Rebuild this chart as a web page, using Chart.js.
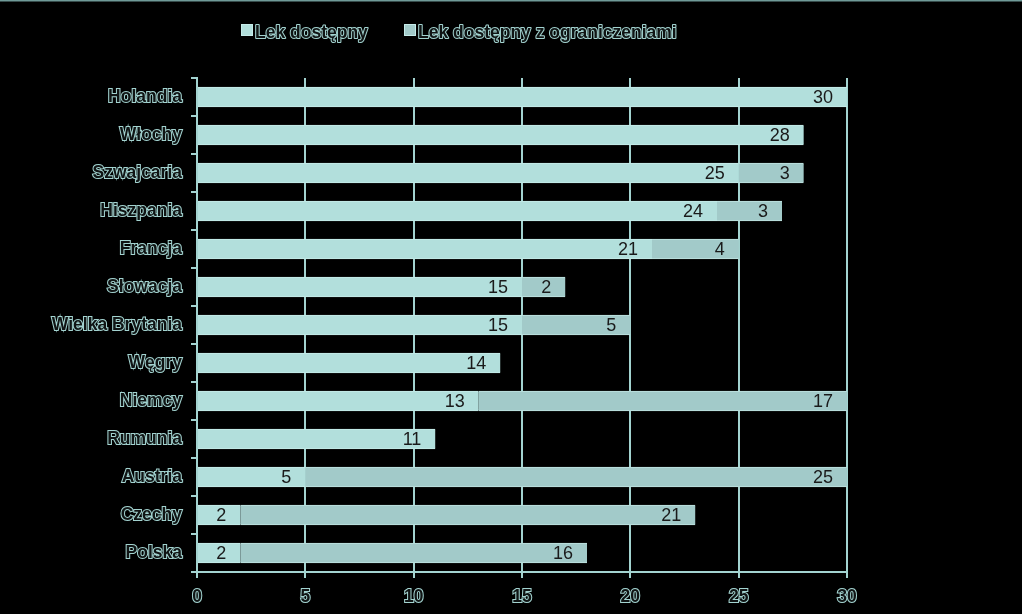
<!DOCTYPE html>
<html>
<head>
<meta charset="utf-8">
<script src="https://cdn.jsdelivr.net/npm/chart.js@4"></script>
<style>
  html, body { margin: 0; padding: 0; background: #000; }
  #wrap { width: 1022px; height: 614px; position: relative; }
</style>
</head>
<body>
<div id="wrap"><canvas id="c" width="1022" height="614"></canvas></div>
<script>
const categories = ['Holandia', 'Włochy', 'Szwajcaria', 'Hiszpania', 'Francja', 'Słowacja', 'Wielka Brytania', 'Węgry', 'Niemcy', 'Rumunia', 'Austria', 'Czechy', 'Polska'];
const seriesNames = ['Lek dostępny', 'Lek dostępny z ograniczeniami'];
const available = [30, 28, 25, 24, 21, 15, 15, 14, 13, 11, 5, 2, 2];
const restricted = [null, null, 3, 3, 4, 2, 5, null, 17, null, 25, 21, 16];
const xTicks = [0, 5, 10, 15, 20, 25, 30];

const FONT = '"Liberation Sans", Arial, sans-serif';
const LINE = '#a3d3d0';
const TEXT_FILL = '#101414';
const COLORS = ['#b2dfdc', '#a2cac9'];

const bgPlugin = {
  id: 'bg',
  beforeDraw(chart) {
    const ctx = chart.ctx;
    ctx.save();
    ctx.fillStyle = '#000';
    ctx.fillRect(0, 0, chart.width, chart.height);
    ctx.fillStyle = '#6f9a98';
    ctx.fillRect(0, 0, chart.width, 1.5);
    ctx.restore();
  }
};

const legendPlugin = {
  id: 'customLegend',
  afterDraw(chart) {
    const ctx = chart.ctx;
    const items = [{x: 241}, {x: 404}];
    ctx.save();
    ctx.font = 'bold 17.5px ' + FONT;
    ctx.textBaseline = 'alphabetic';
    ctx.textAlign = 'left';
    chart.data.datasets.forEach((ds, i) => {
      const x = items[i].x;
      ctx.fillStyle = ds.backgroundColor;
      ctx.fillRect(x, 24, 12, 12);
      ctx.strokeStyle = '#c6ecea';
      ctx.lineWidth = 1;
      ctx.strokeRect(x + 0.5, 24.5, 11, 11);
      ctx.lineWidth = 2;
      ctx.lineJoin = 'round';
      ctx.strokeStyle = LINE;
      ctx.strokeText(ds.label, x + 14, 38);
      ctx.fillStyle = TEXT_FILL;
      ctx.fillText(ds.label, x + 14, 38);
    });
    ctx.restore();
  }
};

const labelPlugin = {
  id: 'barLabels',
  afterDatasetsDraw(chart) {
    const ctx = chart.ctx;
    ctx.save();
    ctx.font = '18px ' + FONT;
    ctx.fillStyle = '#1a1a1a';
    ctx.textAlign = 'right';
    ctx.textBaseline = 'middle';
    chart.data.datasets.forEach((ds, di) => {
      const meta = chart.getDatasetMeta(di);
      meta.data.forEach((el, i) => {
        const v = ds.data[i];
        if (v === null || v === undefined) return;
        ctx.fillText(String(v), el.x - 14, el.y + 1);
      });
    });
    ctx.restore();
  }
};

new Chart(document.getElementById('c'), {
  type: 'bar',
  data: {
    labels: categories,
    datasets: [
      {
        label: seriesNames[0],
        data: available,
        backgroundColor: COLORS[0],
        borderColor: '#c6ecea',
        borderWidth: {top: 1, bottom: 1, left: 0, right: 0},
        borderSkipped: false,
        barThickness: 20
      },
      {
        label: seriesNames[1],
        data: restricted,
        backgroundColor: COLORS[1],
        borderColor: '#bfe3e1',
        borderWidth: {top: 1, bottom: 1, left: 0, right: 0},
        borderSkipped: false,
        barThickness: 20
      }
    ]
  },
  options: {
    indexAxis: 'y',
    responsive: false,
    animation: false,
    devicePixelRatio: 1,
    layout: { padding: { left: 0, right: 175, top: 78, bottom: 0 } },
    plugins: {
      legend: { display: false },
      tooltip: { enabled: false }
    },
    scales: {
      x: {
        stacked: true,
        min: 0,
        max: 30,
        afterBuildTicks(scale) { scale.ticks = xTicks.map(v => ({ value: v })); },
        afterFit(scale) { scale.height = 42; },
        grid: { color: LINE, lineWidth: 2, tickLength: 6, drawTicks: true },
        border: { color: LINE, width: 2 },
        ticks: {
          padding: 9,
          color: TEXT_FILL,
          textStrokeColor: LINE,
          textStrokeWidth: 2,
          font: { family: FONT, size: 17.5, weight: 'bold' }
        }
      },
      y: {
        stacked: true,
        afterFit(scale) { scale.width = 197; },
        grid: { drawOnChartArea: false, color: LINE, lineWidth: 2, tickLength: 6, offset: true },
        border: { color: LINE, width: 2 },
        ticks: {
          padding: 9,
          color: TEXT_FILL,
          textStrokeColor: LINE,
          textStrokeWidth: 2,
          font: { family: FONT, size: 17.5, weight: 'bold' }
        }
      }
    }
  },
  plugins: [bgPlugin, legendPlugin, labelPlugin]
});
</script>
</body>
</html>
